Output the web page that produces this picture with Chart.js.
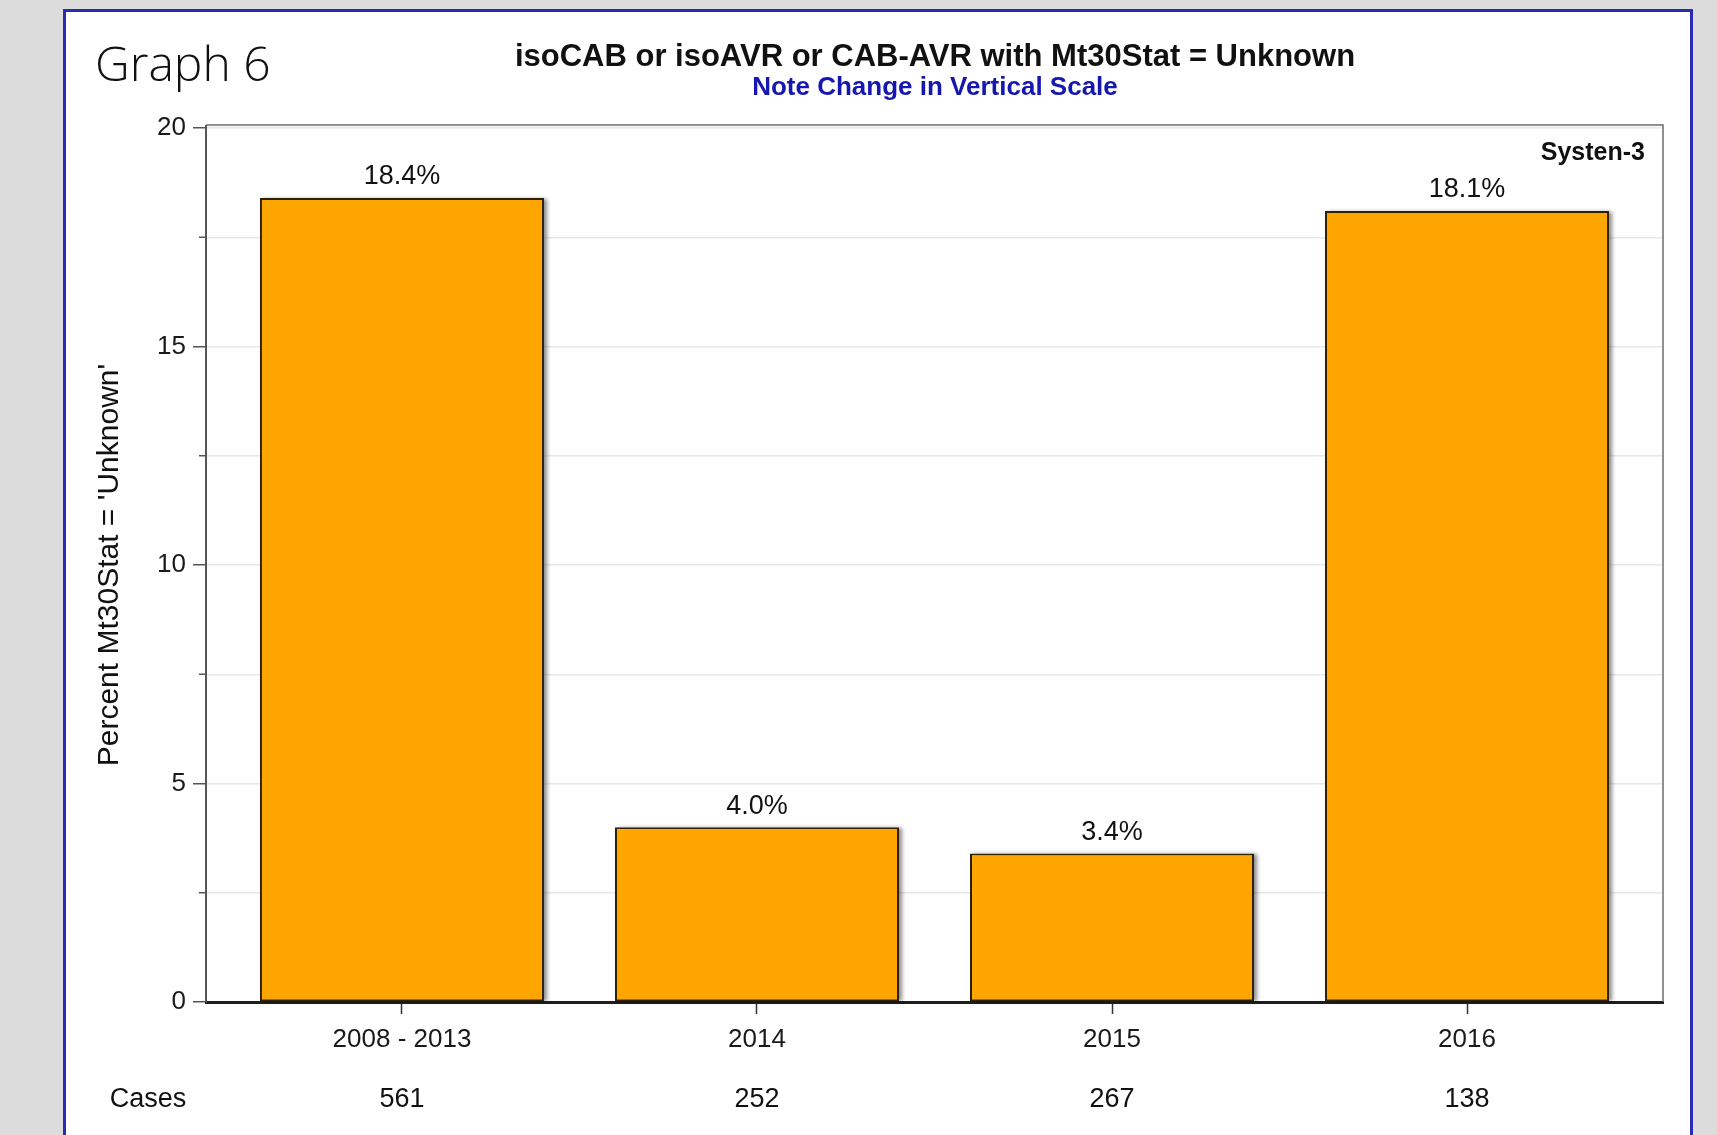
<!DOCTYPE html>
<html lang="en">
<head>
    <meta charset="UTF-8">
    <title>Graph 6</title>
    <script src="https://cdn.jsdelivr.net/npm/chart.js"></script>
    <style>
        body { margin: 0; background: #dcdcdc; width: 1717px; height: 1135px; overflow: hidden; }
        .panel {
            position: absolute; left: 63px; top: 9px; width: 1624px; height: 1200px;
            background: #fff; border: 3px solid #2a2ab4;
        }
        canvas { position: absolute; left: 0; top: 0; }
    </style>
</head>
<body>
    <div class="panel"></div>
    <canvas id="graph6" width="1717" height="1135"></canvas>

    <script>
        const categories = ['2008 - 2013', '2014', '2015', '2016'];
        const percentUnknown = [18.4, 4.0, 3.4, 18.1];
        const percentLabels = ['18.4%', '4.0%', '3.4%', '18.1%'];
        const caseCounts = ['561', '252', '267', '138'];

        const FONT = '"Liberation Sans", Arial, sans-serif';
        Chart.defaults.font.family = FONT;
        Chart.defaults.color = '#1a1a1a';

        // bar shadow, drawn under the bars
        const barShadow = {
            id: 'barShadow',
            beforeDatasetsDraw(chart) {
                const ctx = chart.ctx;
                ctx.save();
                ctx.shadowColor = 'rgba(0,0,0,0.45)';
                ctx.shadowOffsetX = 3;
                ctx.shadowOffsetY = 1;
                ctx.shadowBlur = 4;
                ctx.fillStyle = '#ffffff';
                chart.getDatasetMeta(0).data.forEach(bar => {
                    ctx.fillRect(bar.x - bar.width / 2, bar.y, bar.width, bar.base - bar.y - 1);
                });
                ctx.restore();
            }
        };

        const extras = {
            id: 'extras',
            afterDraw(chart) {
                const ctx = chart.ctx;
                const area = chart.chartArea;
                const x = chart.scales.x, y = chart.scales.y;
                const frameTop = area.top - 3;
                ctx.save();

                // top and right frame, a little above the 20 line
                ctx.strokeStyle = '#6e6e6e';
                ctx.lineWidth = 1.5;
                ctx.beginPath();
                ctx.moveTo(area.left, frameTop);
                ctx.lineTo(area.right, frameTop);
                ctx.lineTo(area.right, area.bottom);
                ctx.stroke();
                ctx.strokeStyle = '#555';
                ctx.lineWidth = 2;
                ctx.beginPath();
                ctx.moveTo(area.left, frameTop);
                ctx.lineTo(area.left, area.top);
                ctx.stroke();

                // minor ticks on y
                ctx.lineWidth = 1.5;
                y.ticks.forEach(t => {
                    if (t.value % 5 !== 0) {
                        const py = y.getPixelForValue(t.value);
                        ctx.beginPath();
                        ctx.moveTo(area.left - 7, py);
                        ctx.lineTo(area.left, py);
                        ctx.stroke();
                    }
                });

                ctx.fillStyle = '#111';
                ctx.textBaseline = 'middle';

                // bar value labels
                ctx.font = '27px ' + FONT;
                ctx.textAlign = 'center';
                chart.getDatasetMeta(0).data.forEach((bar, i) => {
                    ctx.fillText(percentLabels[i], bar.x, bar.y - 21);
                });

                // cases row
                caseCounts.forEach((c, i) => {
                    ctx.fillText(c, x.getPixelForValue(i), 1100);
                });
                ctx.fillText('Cases', 148, 1100);

                // titles
                ctx.font = 'bold 31px ' + FONT;
                ctx.fillText('isoCAB or isoAVR or CAB-AVR with Mt30Stat = Unknown', 935, 57);
                ctx.fillStyle = '#1616b0';
                ctx.font = 'bold 26px ' + FONT;
                ctx.fillText('Note Change in Vertical Scale', 935, 88);

                ctx.fillStyle = '#111';
                ctx.font = 'bold 25px ' + FONT;
                ctx.textAlign = 'right';
                ctx.fillText('Systen-3', area.right - 18, 153);

                ctx.textAlign = 'left';
                ctx.font = '300 48px "Open Sans", sans-serif';
                ctx.fillText('Graph 6', 95, 67);
                ctx.restore();
            }
        };

        new Chart(document.getElementById('graph6'), {
            type: 'bar',
            data: {
                datasets: [{
                    data: percentUnknown.map((v, i) => ({ x: i, y: v })),
                    backgroundColor: '#ffa500',
                    borderColor: '#2e2005',
                    borderWidth: 2,
                    borderSkipped: false,
                    barPercentage: 0.8,
                    categoryPercentage: 1.0
                }]
            },
            options: {
                responsive: false,
                animation: false,
                devicePixelRatio: 1,
                layout: { padding: { top: 128, right: 54, left: 0, bottom: 0 } },
                plugins: { legend: { display: false }, tooltip: { enabled: false } },
                scales: {
                    x: {
                        type: 'linear',
                        min: -0.552,
                        max: 3.552,
                        offset: false,
                        afterBuildTicks(s) { s.ticks = categories.map((c, i) => ({ value: i })); },
                        afterFit(s) { s.height = 133; },
                        ticks: {
                            callback: v => categories[v],
                            font: { size: 26 },
                            color: '#1a1a1a',
                            padding: 10,
                            autoSkip: false,
                            maxRotation: 0
                        },
                        grid: { drawOnChartArea: false, offset: false, tickLength: 12, tickColor: '#333', tickWidth: 1.5 },
                        border: { color: '#1e1e1e', width: 3 }
                    },
                    y: {
                        min: 0,
                        max: 20,
                        afterFit(s) { s.width = 206; },
                        ticks: {
                            stepSize: 2.5,
                            callback: v => (v % 5 === 0 ? v : ''),
                            font: { size: 26 },
                            color: '#1a1a1a',
                            padding: 7
                        },
                        grid: {
                            color: c => (c.tick.value === 0 ? 'rgba(0,0,0,0)' : '#e8e8e8'),
                            lineWidth: 1.5,
                            tickLength: 13,
                            tickColor: c => (c.tick.value % 5 === 0 ? '#555' : 'rgba(0,0,0,0)'),
                            tickWidth: 1.5
                        },
                        border: { color: '#555', width: 2 },
                        title: {
                            display: true,
                            text: "Percent Mt30Stat = 'Unknown'",
                            font: { size: 30 },
                            color: '#111',
                            padding: { top: 92, bottom: 0 }
                        }
                    }
                }
            },
            plugins: [barShadow, extras]
        });
    </script>
</body>
</html>
